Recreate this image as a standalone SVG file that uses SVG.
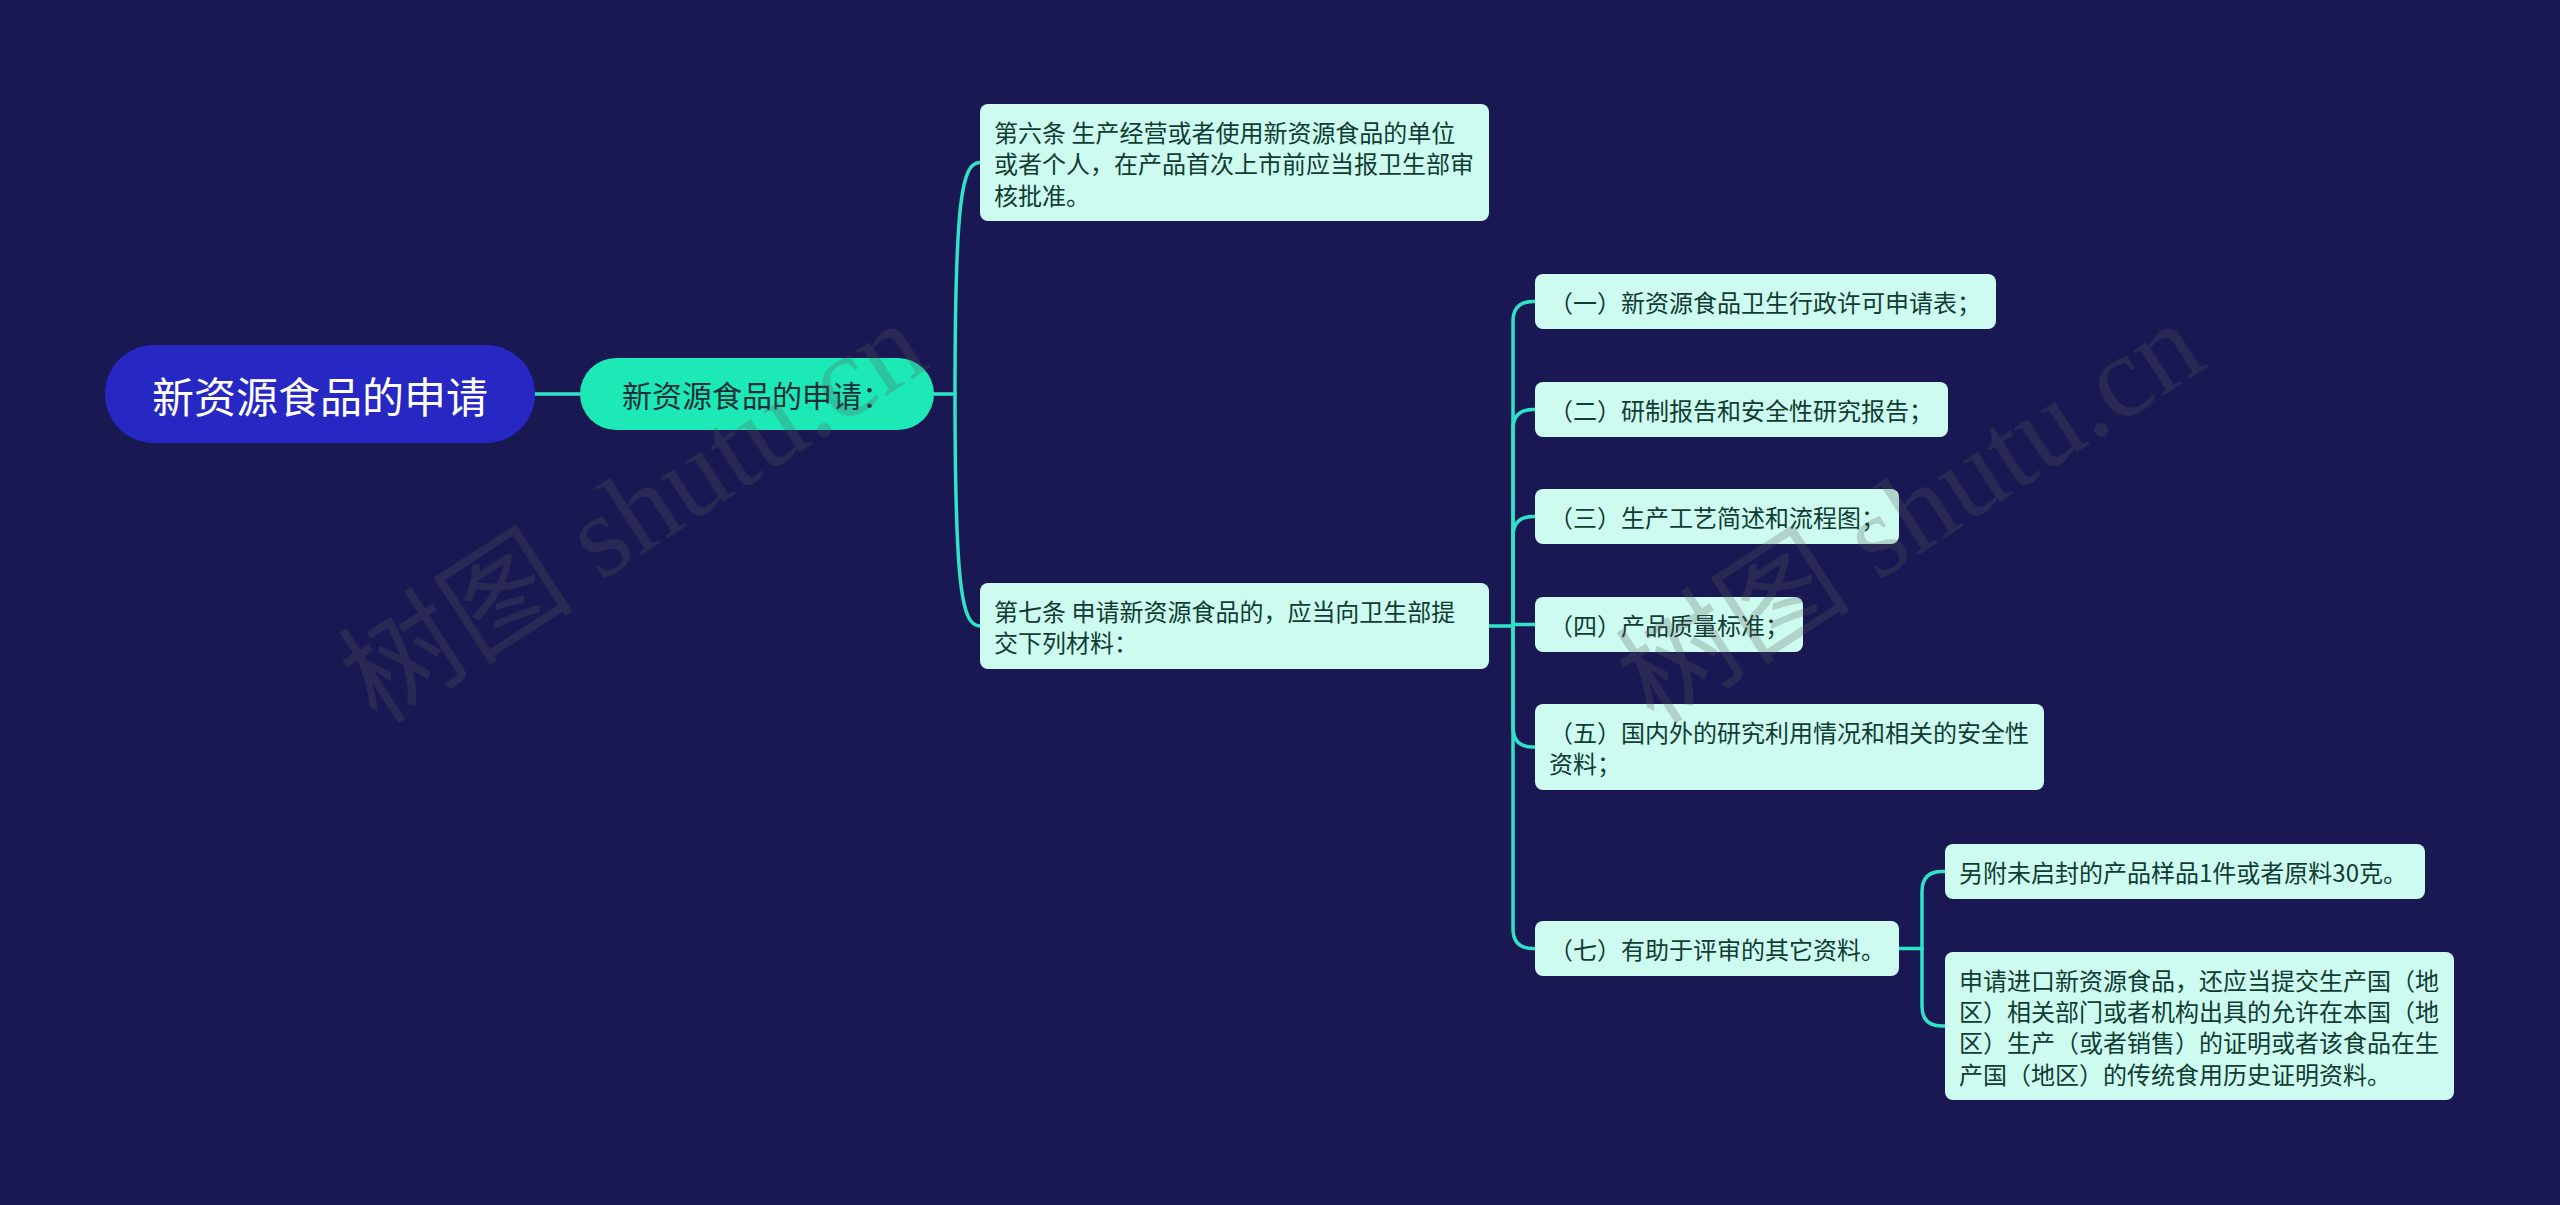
<svg xmlns="http://www.w3.org/2000/svg" width="2560" height="1205" viewBox="0 0 2560 1205">
<style>
  .bg{fill:#1a1852}
  .conn{fill:none;stroke:#2fe3c6;stroke-width:3.5;stroke-linecap:round}
  .box{fill:#cdfbef}
  .t{font-family:"Noto Sans CJK SC","Noto Sans",sans-serif;font-size:24px;fill:#103c33;dominant-baseline:central}
  .wm{font-family:"Liberation Serif","Noto Sans CJK SC",serif;font-size:118px;fill:#5a5a5a;opacity:0.25}
</style>
<rect class="bg" x="0" y="0" width="2560" height="1205"/>
<g id="connectors">
  <path class="conn" d="M535 394 H580"/>
  <path class="conn" d="M934 394 H955"/>
  <path class="conn" d="M955 394 C955 198 962 162.5 980 162.5"/>
  <path class="conn" d="M955 394 C955 590 962 626 980 626"/>
  <path class="conn" d="M1489 626 H1513"/>
  <path class="conn" d="M1513 626 V321.5 Q1513 301.5 1533 301.5 H1535"/>
  <path class="conn" d="M1513 626 V429.5 Q1513 409.5 1533 409.5 H1535"/>
  <path class="conn" d="M1513 626 V536.5 Q1513 516.5 1533 516.5 H1535"/>
  <path class="conn" d="M1513 624.5 H1535"/>
  <path class="conn" d="M1513 626 V727 Q1513 747 1533 747 H1535"/>
  <path class="conn" d="M1513 626 V928.5 Q1513 948.5 1533 948.5 H1535"/>
  <path class="conn" d="M1899 948.5 H1922"/>
  <path class="conn" d="M1922 948.5 V891.5 Q1922 871.5 1942 871.5 H1945"/>
  <path class="conn" d="M1922 948.5 V1006 Q1922 1026 1942 1026 H1945"/>
</g>
<g id="root">
  <rect x="105" y="345" width="430" height="98" rx="49" fill="#2727c4"/>
  <text x="320" y="394" text-anchor="middle" style="font-family:'Noto Sans CJK SC',sans-serif;font-size:42px;fill:#ffffff;dominant-baseline:central">新资源食品的申请</text>
</g>
<g id="n-level1">
  <rect x="580" y="358" width="354" height="72" rx="36" fill="#1de9b6"/>
  <text x="757" y="394" text-anchor="middle" style="font-family:'Noto Sans CJK SC',sans-serif;font-size:30px;fill:#1c2f38;dominant-baseline:central">新资源食品的申请：</text>
</g>
<g id="n-art6">
  <rect class="box" x="980" y="104" width="509" height="117" rx="8"/>
  <text class="t" x="994" y="131">第六条 生产经营或者使用新资源食品的单位</text>
  <text class="t" x="994" y="162.5">或者个人，在产品首次上市前应当报卫生部审</text>
  <text class="t" x="994" y="194">核批准。</text>
</g>
<g id="n-art7">
  <rect class="box" x="980" y="583" width="509" height="86" rx="8"/>
  <text class="t" x="994" y="610.5">第七条 申请新资源食品的，应当向卫生部提</text>
  <text class="t" x="994" y="641.5">交下列材料：</text>
</g>
<g id="n-c1">
  <rect class="box" x="1535" y="274" width="461" height="55" rx="8"/>
  <text class="t" x="1549" y="301.5">（一）新资源食品卫生行政许可申请表；</text>
</g>
<g id="n-c2">
  <rect class="box" x="1535" y="382" width="413" height="55" rx="8"/>
  <text class="t" x="1549" y="409.5">（二）研制报告和安全性研究报告；</text>
</g>
<g id="n-c3">
  <rect class="box" x="1535" y="489" width="364" height="55" rx="8"/>
  <text class="t" x="1549" y="516.5">（三）生产工艺简述和流程图；</text>
</g>
<g id="n-c4">
  <rect class="box" x="1535" y="597" width="268" height="55" rx="8"/>
  <text class="t" x="1549" y="624.5">（四）产品质量标准；</text>
</g>
<g id="n-c5">
  <rect class="box" x="1535" y="704" width="509" height="86" rx="8"/>
  <text class="t" x="1549" y="731.5">（五）国内外的研究利用情况和相关的安全性</text>
  <text class="t" x="1549" y="762.5">资料；</text>
</g>
<g id="n-c7">
  <rect class="box" x="1535" y="921" width="364" height="55" rx="8"/>
  <text class="t" x="1549" y="948.5">（七）有助于评审的其它资料。</text>
</g>
<g id="n-g1">
  <rect class="box" x="1945" y="844" width="480" height="55" rx="8"/>
  <text class="t" x="1959" y="871.5">另附未启封的产品样品1件或者原料30克。</text>
</g>
<g id="n-g2">
  <rect class="box" x="1945" y="952" width="509" height="148" rx="8"/>
  <text class="t" x="1959" y="979">申请进口新资源食品，还应当提交生产国（地</text>
  <text class="t" x="1959" y="1010">区）相关部门或者机构出具的允许在本国（地</text>
  <text class="t" x="1959" y="1041.5">区）生产（或者销售）的证明或者该食品在生</text>
  <text class="t" x="1959" y="1073">产国（地区）的传统食用历史证明资料。</text>
</g>
<g id="watermarks">
  <text class="wm" x="635" y="552" text-anchor="middle" transform="rotate(-33 635 515)">树图 shutu.cn</text>
  <text class="wm" x="1912" y="552" text-anchor="middle" transform="rotate(-33 1912 515)">树图 shutu.cn</text>
</g>
</svg>
